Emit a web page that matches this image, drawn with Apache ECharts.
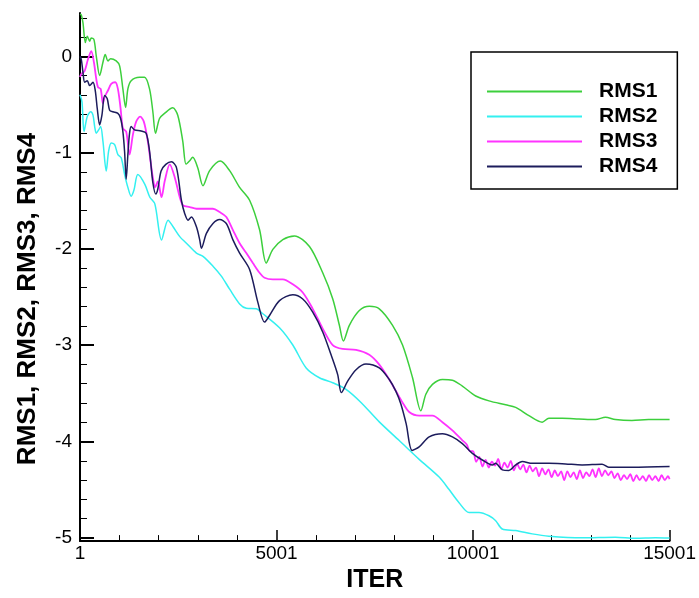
<!DOCTYPE html>
<html>
<head>
<meta charset="utf-8">
<script src="https://cdn.jsdelivr.net/npm/echarts@6/dist/echarts.min.js"></script>
<style>html,body{margin:0;padding:0;background:#fff}#c{width:699px;height:598px}</style>
</head>
<body>
<div id="c"></div>
<script>
const seriesNames = ['RMS1', 'RMS2', 'RMS3', 'RMS4'];
const xTickLabels = [1, 5001, 10001, 15001];
const yTickValues = [-5, -4, -3, -2, -1, 0];
const yMinorValues = [-4.8,-4.6,-4.4,-4.2,-3.8,-3.6,-3.4,-3.2,-2.8,-2.6,-2.4,-2.2,-1.8,-1.6,-1.4,-1.2,-0.8,-0.6,-0.4,-0.2,0.2,0.4];

const rms1 = [[1,0.44],[34,0.43],[77,0.348],[136,0.143],[186,0.208],[247,0.157],[288,0.191],[356,0.174],[415,0.003],[501,-0.200],[585,-0.061],[643,0.020],[712,-0.048],[780,-0.024],[922,-0.048],[1009,-0.099],[1092,-0.338],[1161,-0.532],[1219,-0.338],[1303,-0.253],[1516,-0.218],[1643,-0.218],[1770,-0.338],[1854,-0.573],[1922,-0.798],[2024,-0.645],[2151,-0.593],[2361,-0.535],[2488,-0.611],[2615,-0.880],[2699,-1.12],[2785,-1.088],[2869,-1.047],[2996,-1.156],[3130,-1.343],[3300,-1.187],[3572,-1.088],[3808,-1.187],[4062,-1.361],[4316,-1.494],[4570,-1.801],[4739,-2.146],[4907,-2.005],[5161,-1.903],[5458,-1.865],[5839,-1.975],[6176,-2.248],[6430,-2.517],[6600,-2.793],[6702,-2.957],[6854,-2.793],[7108,-2.640],[7362,-2.596],[7615,-2.622],[7953,-2.793],[8207,-2.998],[8460,-3.335],[8673,-3.68],[8800,-3.509],[8968,-3.407],[9222,-3.356],[9475,-3.363],[9729,-3.424],[10069,-3.527],[10407,-3.578],[10831,-3.619],[11085,-3.645],[11422,-3.731],[11760,-3.799],[11930,-3.758],[12268,-3.758],[12691,-3.765],[13115,-3.772],[13369,-3.748],[13623,-3.772],[14044,-3.782],[14467,-3.772],[15001,-3.772]];

const rms2 = [[1,-0.40],[52,-0.474],[103,-0.781],[186,-0.624],[273,-0.576],[331,-0.611],[374,-0.729],[415,-0.798],[476,-0.764],[526,-0.729],[585,-0.883],[668,-1.190],[729,-0.985],[795,-0.900],[882,-0.918],[965,-1.020],[1049,-1.054],[1135,-1.225],[1219,-1.361],[1303,-1.453],[1372,-1.391],[1473,-1.228],[1651,-1.330],[1778,-1.463],[1905,-1.532],[2075,-1.906],[2242,-1.701],[2369,-1.770],[2539,-1.872],[2709,-1.941],[2963,-2.043],[3130,-2.077],[3384,-2.179],[3597,-2.282],[3808,-2.418],[4062,-2.571],[4232,-2.616],[4486,-2.622],[4653,-2.673],[5077,-2.819],[5415,-2.998],[5755,-3.236],[6092,-3.338],[6430,-3.390],[6770,-3.458],[7150,-3.594],[7615,-3.796],[8123,-3.990],[8630,-4.185],[9138,-4.369],[9392,-4.499],[9645,-4.635],[9899,-4.737],[10153,-4.737],[10407,-4.771],[10577,-4.822],[10744,-4.908],[11085,-4.924],[11506,-4.959],[11930,-4.983],[12775,-5.000],[13623,-4.993],[14130,-5.005],[14638,-5.000],[15001,-5.003]];

const rms3 = [[1,-0.215],[34,-0.184],[120,-0.150],[204,-0.031],[288,0.054],[356,-0.064],[415,-0.235],[458,-0.320],[526,-0.338],[585,-0.491],[628,-0.423],[712,-0.355],[795,-0.286],[897,-0.269],[965,-0.338],[1034,-0.542],[1092,-0.747],[1176,-0.781],[1262,-1.020],[1346,-0.815],[1430,-0.678],[1531,-0.627],[1625,-0.678],[1727,-0.883],[1795,-1.088],[1854,-1.258],[1912,-1.36],[1981,-1.30],[2075,-1.463],[2158,-1.292],[2285,-1.122],[2412,-1.258],[2539,-1.463],[2623,-1.548],[2793,-1.565],[2963,-1.583],[3130,-1.583],[3384,-1.583],[3554,-1.617],[3724,-1.668],[3892,-1.804],[4062,-1.941],[4232,-2.043],[4399,-2.146],[4570,-2.248],[4696,-2.299],[4907,-2.316],[5161,-2.316],[5415,-2.367],[5668,-2.452],[5922,-2.622],[6176,-2.827],[6430,-2.998],[6683,-3.039],[7023,-3.049],[7361,-3.100],[7615,-3.202],[7869,-3.356],[8039,-3.476],[8206,-3.594],[8376,-3.693],[8630,-3.731],[8968,-3.731],[9222,-3.799],[9475,-3.885],[9729,-3.987],[9840,-4.03],[9920,-4.10],[10000,-4.10],[10080,-4.21],[10160,-4.16],[10240,-4.26],[10320,-4.19],[10400,-4.27],[10480,-4.21],[10560,-4.25],[10640,-4.18],[10720,-4.29],[10800,-4.22],[10880,-4.27],[10960,-4.20],[11040,-4.30],[11120,-4.23],[11200,-4.29],[11280,-4.24],[11360,-4.32],[11440,-4.25],[11520,-4.31],[11600,-4.27],[11680,-4.36],[11760,-4.28],[11840,-4.34],[11920,-4.29],[12000,-4.37],[12080,-4.30],[12160,-4.36],[12240,-4.31],[12320,-4.40],[12400,-4.31],[12480,-4.37],[12560,-4.32],[12640,-4.39],[12720,-4.30],[12800,-4.38],[12880,-4.32],[12960,-4.36],[13040,-4.29],[13120,-4.37],[13200,-4.28],[13280,-4.36],[13360,-4.30],[13440,-4.35],[13520,-4.31],[13600,-4.38],[13680,-4.33],[13760,-4.40],[13840,-4.35],[13920,-4.39],[14000,-4.34],[14080,-4.41],[14160,-4.35],[14240,-4.40],[14320,-4.36],[14400,-4.41],[14480,-4.35],[14560,-4.40],[14640,-4.36],[14720,-4.41],[14800,-4.35],[14880,-4.40],[14960,-4.36],[15001,-4.39]];

const rms4 = [[1,0.0],[34,-0.031],[77,-0.167],[120,-0.269],[186,-0.253],[247,-0.304],[331,-0.269],[389,-0.355],[440,-0.542],[501,-0.713],[559,-0.611],[628,-0.406],[694,-0.440],[755,-0.560],[839,-0.576],[965,-0.593],[1034,-0.645],[1092,-0.781],[1135,-0.985],[1176,-1.276],[1219,-1.020],[1262,-0.798],[1303,-0.729],[1389,-0.764],[1557,-0.775],[1684,-0.798],[1770,-0.985],[1854,-1.310],[1930,-1.429],[1981,-1.378],[2064,-1.190],[2184,-1.122],[2328,-1.095],[2455,-1.156],[2582,-1.497],[2666,-1.634],[2750,-1.701],[2836,-1.668],[2963,-1.770],[3047,-1.906],[3090,-1.992],[3217,-1.839],[3384,-1.736],[3554,-1.695],[3724,-1.736],[3892,-1.906],[4062,-2.043],[4316,-2.213],[4526,-2.555],[4696,-2.760],[4823,-2.691],[5077,-2.537],[5415,-2.476],[5668,-2.520],[5922,-2.657],[6176,-2.862],[6389,-3.100],[6557,-3.305],[6651,-3.492],[6811,-3.373],[7024,-3.254],[7277,-3.195],[7615,-3.236],[7869,-3.356],[8039,-3.479],[8166,-3.612],[8300,-3.816],[8452,-4.092],[8630,-4.055],[8884,-3.952],[9222,-3.919],[9475,-3.952],[9729,-4.021],[9983,-4.123],[10237,-4.192],[10491,-4.243],[10577,-4.226],[10745,-4.294],[10914,-4.300],[11084,-4.243],[11252,-4.208],[11506,-4.226],[11930,-4.226],[12353,-4.233],[12775,-4.243],[13283,-4.236],[13452,-4.267],[14044,-4.267],[15001,-4.260]];

const colors = ['#3ccf3c', '#33f0f0', '#ff33ff', '#1c1c5c'];
const font = "'Liberation Sans', Arial, sans-serif";

const chart = echarts.init(document.getElementById('c'));
const dataSets = [rms1, rms2, rms3, rms4];
chart.setOption({
  animation: false,
  backgroundColor: '#fff',
  textStyle: { fontFamily: font },
  grid: { left: 80, right: 28, top: 13, bottom: 49, containLabel: false },
  legend: {
    data: seriesNames,
    orient: 'vertical',
    left: 471, top: 52,
    padding: [27, 20, 10, 16],
    borderColor: '#000', borderWidth: 1.5,
    icon: 'rect', itemWidth: 95, itemHeight: 2, itemGap: 0,
    textStyle: { fontFamily: font, fontSize: 21, fontWeight: 'bold', color: '#000', lineHeight: 25, padding: [0, 0, 0, 12] }
  },
  xAxis: {
    type: 'value', min: 1, max: 15001, interval: 5000,
    name: 'ITER', nameLocation: 'middle', nameGap: 22,
    nameTextStyle: { fontFamily: font, fontSize: 25, fontWeight: 'bold', color: '#000' },
    axisLine: { show: true, onZero: false, lineStyle: { color: '#000', width: 2 } },
    axisTick: { inside: true, length: 11, lineStyle: { color: '#000', width: 1.5 } },
    minorTick: { show: true, splitNumber: 5, length: 6, lineStyle: { color: '#000', width: 1 } },
    axisLabel: { fontFamily: font, fontSize: 19, color: '#000', margin: 3, formatter: v => String(v) },
    splitLine: { show: false }
  },
  yAxis: [{
    type: 'value', min: -5.034, max: 0.45,
    axisLine: { show: true, onZero: false, lineStyle: { color: '#000', width: 2 } },
    axisTick: { inside: true, length: 14, customValues: yTickValues, lineStyle: { color: '#000', width: 2 } },
    axisLabel: { customValues: yTickValues, fontFamily: font, fontSize: 19, color: '#000', margin: 8 },
    splitLine: { show: false }
  }, {
    type: 'value', min: -5.034, max: 0.45, position: 'left',
    axisLine: { show: false },
    axisTick: { inside: true, length: 7, customValues: yMinorValues, lineStyle: { color: '#000', width: 1 } },
    axisLabel: { show: false },
    splitLine: { show: false }
  }],
  graphic: [{
    type: 'text', x: 28, y: 299, rotation: Math.PI / 2,
    style: { text: 'RMS1, RMS2, RMS3, RMS4', font: "bold 26px 'Liberation Sans', Arial, sans-serif", fill: '#000', textAlign: 'center', textVerticalAlign: 'middle' }
  }],
  series: dataSets.map((d, i) => ({
    name: seriesNames[i], type: 'line', data: d, yAxisIndex: 0,
    showSymbol: false, symbol: 'none', clip: false, smooth: 0.3,
    lineStyle: { color: colors[i], width: i === 2 ? 1.8 : 1.5 },
    itemStyle: { color: colors[i] }
  }))
});
</script>
</body>
</html>
